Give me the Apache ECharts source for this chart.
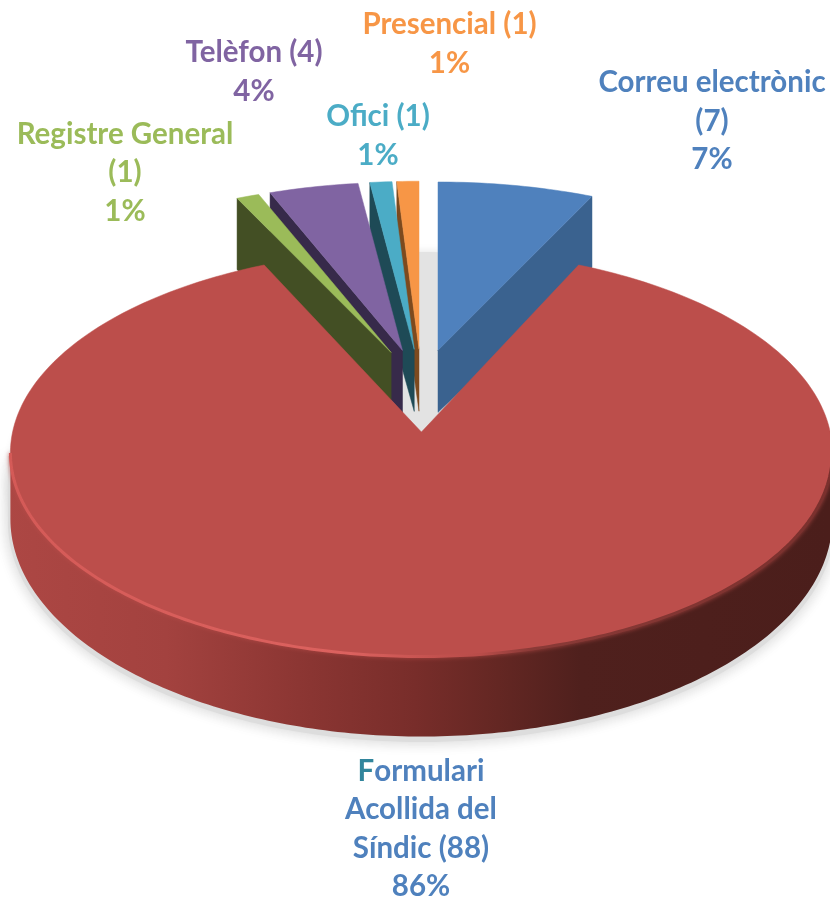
<!DOCTYPE html>
<html><head><meta charset="utf-8">
<script src="https://cdn.jsdelivr.net/npm/echarts@6/dist/echarts.min.js"></script>
<style>html,body{margin:0;padding:0;background:#fff}#c{width:830px;height:901px}</style>
</head><body><div id="c"></div>
<script>
// ---- data (clockwise from 12 o'clock) ----
const categories = ['Correu electrònic','Formulari Acollida del Síndic','Registre General','Telèfon','Ofici','Presencial'];
const values = [7, 88, 1, 4, 1, 1];
// ---- styles / layout ----
const topColors  = ['#4f81bd','#bc4e4b','#9bbb59','#8064a2','#4bacc6','#f79646'];
const wallColors = ['#3a628f','#8a3532','#434f24','#372a4a','#1e4a56','#7d4a1e'];
const textColors = ['#4f81bd','#4f81bd','#9bbb59','#8064a2','#4bacc6','#f79646'];
const labelCentres = [[712,121],[421,829],[125,172.5],[254,72],[378,136],[449.5,44]];
const wrapWidths = [18,13,17,14,14,16];
const drawOrder = [0,5,4,3,2,1];
const G = {cx:421.4, cy:390.6, ex:77.6, ey:41.4, rx:411};
const FONT = 'Lato';

const total = values.reduce((a,b)=>a+b,0);
const rad = Math.PI/180;
let acc = 0;
const spans = values.map(v=>{const s=acc; acc+=v/total*360; return [s,acc];});

function geom(i){
  const [a0,a1]=spans[i], mid=(a0+a1)/2*rad, c=Math.cos(mid), s=Math.sin(mid);
  const ax=G.cx+G.ex*s, ay=G.cy-G.ey*c;
  const d=25+4*c, ry=200.25-3.25*c, m=0.889-0.011*c;
  const depthApex=71-9*c, depthRim=75.5-4.5*c;
  const p=(deg)=>{const t=deg*rad, S=m*Math.sin(t), C=Math.cos(t), n=Math.hypot(S,C);
    return [ax+G.rx*S/n, ay+d-ry*C/n];};
  const arc=(from,to)=>{const N=Math.max(2,Math.ceil(Math.abs(to-from)))+1, r=[];
    for(let k=0;k<N;k++) r.push(p(from+(to-from)*k/(N-1))); return r;};
  return {a0,a1,ax,ay,depthApex,depthRim,p,arc};
}
function wall(g,deg,color){
  const q=g.p(deg);
  return {type:'polygon',shape:{points:[[g.ax,g.ay],q,[q[0],q[1]+g.depthRim],[g.ax,g.ay+g.depthApex]]},
    style:{fill:color,stroke:color,lineWidth:0.5}};
}
function rimBands(g){
  const top=[],bottom=[];
  for(let deg=90;deg<=270;deg++){
    const q=g.p(deg);
    top.push(q);
    bottom.unshift([q[0],q[1]+66-14*Math.cos(deg*rad)]);
  }
  return {top,bottom};
}
function renderSlice(params,api){
  const i=api.value(0), g=geom(i), kids=[];
  if(i===1){
    const {top,bottom}=rimBands(g);
    kids.push({type:'polygon',shape:{points:top.concat(bottom)},style:{
      fill:{type:'linear',global:true,x:0,y:0,x2:830,y2:0,colorStops:[
        {offset:0,color:'#ad4744'},{offset:.2,color:'#a3423f'},{offset:.36,color:'#8c3633'},
        {offset:.5,color:'#782d2a'},{offset:.6,color:'#642723'},{offset:.7,color:'#4f201d'},{offset:1,color:'#4b1e1b'}]}}});
  } else if(i===0){
    kids.push(wall(g,g.a1,wallColors[i]));
  } else {
    kids.push(wall(g,g.a0,wallColors[i]));
  }
  kids.push({type:'polygon',shape:{points:[[g.ax,g.ay]].concat(g.arc(g.a0,g.a1))},
    style:{fill:topColors[i],stroke:topColors[i],lineWidth:0.5}});
  if(i===1){
    kids.push({type:'polyline',shape:{points:g.arc(90,270)},style:{fill:'none',lineWidth:3,
      shadowBlur:4,shadowColor:'rgba(190,78,75,0.8)',
      stroke:{type:'linear',global:true,x:0,y:0,x2:830,y2:0,colorStops:[
        {offset:0,color:'#d45a57'},{offset:.42,color:'#dc625f'},{offset:.52,color:'#c4524f'},
        {offset:.58,color:'#b84c49'},{offset:.64,color:'#8a3a37'},{offset:1,color:'#7a302d'}]}}});
  }
  return {type:'group',children:kids};
}
function wrap(str,limit){
  const out=[];let cur='';
  str.split(' ').forEach(w=>{
    if(cur && (cur+' '+w).length>limit){out.push(cur);cur=w;} else cur=cur?cur+' '+w:w;
  });
  if(cur) out.push(cur);
  return out;
}
function renderLabel(params,api){
  const i=api.value(0);
  const lines=wrap(categories[i]+' ('+values[i]+')',wrapWidths[i]);
  lines.push(Math.round(values[i]/total*100)+'%');
  const base={fontFamily:FONT,fontWeight:700,fontSize:29.5,lineHeight:38.5};
  const rich={n:Object.assign({fill:textColors[i]},base),f:Object.assign({fill:'#31859c'},base)};
  const txt=lines.map((l,k)=>(i===1&&k===0)?'{f|'+l[0]+'}{n|'+l.slice(1)+'}':'{n|'+l+'}').join('\n');
  return {type:'text',x:labelCentres[i][0],y:labelCentres[i][1],
    style:{text:txt,rich,align:'center',verticalAlign:'middle'}};
}
function renderShadow(){
  const {top,bottom}=rimBands(geom(1));
  const cast=top.concat(bottom).map(q=>[q[0],q[1]+3]);
  return {type:'group',children:[
    {type:'ellipse',shape:{cx:420,cy:480,rx:411,ry:228},
      style:{fill:'#e3e3e3',shadowColor:'#e3e3e3',shadowBlur:8}},
    {type:'polygon',shape:{points:cast},
      style:{fill:'#d9d9d9',stroke:'#dddddd',lineWidth:5,shadowColor:'#d4d4d4',shadowBlur:14}}
  ]};
}
const chart=echarts.init(document.getElementById('c'),null,{renderer:'canvas'});
chart.setOption({
  animation:false,
  backgroundColor:'#fff',
  series:[
    {type:'custom',coordinateSystem:'none',silent:true,z:1,data:[[0]],renderItem:renderShadow},
    {type:'custom',coordinateSystem:'none',silent:true,z:2,data:drawOrder.map(i=>[i,values[i]]),renderItem:renderSlice},
    {type:'custom',coordinateSystem:'none',silent:true,z:3,data:categories.map((c,i)=>[i,values[i]]),renderItem:renderLabel}
  ]
});
</script></body></html>
